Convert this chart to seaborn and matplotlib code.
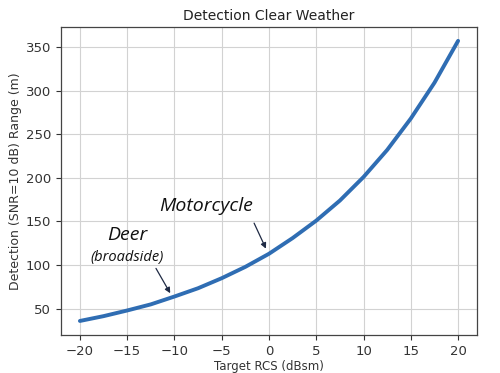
import numpy as np
import pandas as pd
import matplotlib
matplotlib.use("Agg")
import matplotlib.pyplot as plt
import seaborn as sns

# --- values ---
rcs_dbsm = [-20, -17.5, -15, -12.5, -10, -7.5, -5, -2.5, 0,
            2.5, 5, 7.5, 10, 12.5, 15, 17.5, 20]
range_m = [36, 41.5, 48, 55, 64, 73.5, 85, 98, 113,
           131, 151, 174, 201, 232, 268, 309, 357]
x_ticks = [-20, -15, -10, -5, 0, 5, 10, 15, 20]
y_ticks = [50, 100, 150, 200, 250, 300, 350]

df = pd.DataFrame({"rcs": rcs_dbsm, "range": range_m})

sns.set_style("ticks")
plt.rcParams["font.family"] = ["DejaVu Sans"]

fig = plt.figure(figsize=(5, 3.73), dpi=100)
ax = fig.add_axes([0.122, 0.102, 0.832, 0.826])

sns.lineplot(data=df, x="rcs", y="range", ax=ax, color="#2f6db3", linewidth=2.8,
             solid_joinstyle="round", solid_capstyle="round")

ax.set_xticks(x_ticks)
ax.set_yticks(y_ticks)
ax.grid(True, color="#d2d2d2", linewidth=0.8)
ax.tick_params(labelsize=9.5, colors="#333333", length=3.5)
for s in ax.spines.values():
    s.set_color("#444444")
    s.set_linewidth(0.9)

ax.set_title("Detection Clear Weather", fontsize=10, color="#222222", pad=5)
ax.set_xlabel("Target RCS (dBsm)", fontsize=8.5, color="#333333", labelpad=2)
ax.set_ylabel("Detection (SNR=10 dB) Range (m)", fontsize=9, color="#333333", labelpad=3)

# annotations
arrow = dict(arrowstyle="-|>", color="#1f2a44", lw=0.9, mutation_scale=8)
ax.text(-6.7, 168, "Motorcycle", fontsize=14, style="italic", family="Open Sans",
        ha="center", va="center", color="#111111")
ax.annotate("", xy=(-0.2, 116), xytext=(-1.7, 151), arrowprops=arrow)
ax.text(-15, 134, "Deer", fontsize=14, style="italic", family="Open Sans",
        ha="center", va="center", color="#111111")
ax.text(-15, 109, "(broadside)", fontsize=10.5, style="italic", family="Open Sans",
        ha="center", va="center", color="#111111")
ax.annotate("", xy=(-10.3, 65), xytext=(-12.1, 99), arrowprops=arrow)

fig.savefig("out.png", dpi=100)
